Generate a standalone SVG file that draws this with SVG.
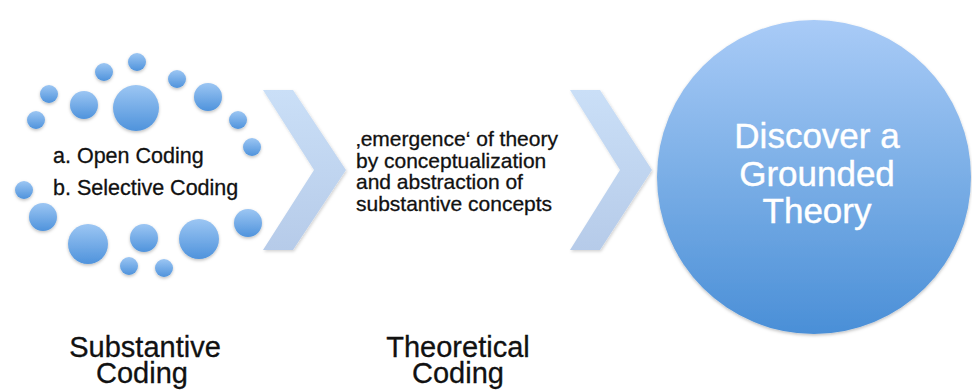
<svg xmlns="http://www.w3.org/2000/svg" width="972" height="390" viewBox="0 0 972 390">
  <defs>
    <linearGradient id="gSmall" x1="0" y1="0" x2="0" y2="1">
      <stop offset="0" stop-color="#9cc6f3"/>
      <stop offset="1" stop-color="#4f93dc"/>
    </linearGradient>
    <linearGradient id="gBig" x1="0" y1="0" x2="0" y2="1">
      <stop offset="0" stop-color="#a9cbf7"/>
      <stop offset="0.5" stop-color="#7aaee6"/>
      <stop offset="1" stop-color="#4a8fd7"/>
    </linearGradient>
    <linearGradient id="gChev" x1="0" y1="0" x2="0" y2="1">
      <stop offset="0" stop-color="#cadff7"/>
      <stop offset="1" stop-color="#b6cbe9"/>
    </linearGradient>
    <filter id="shadow" x="-20%" y="-20%" width="140%" height="150%">
      <feDropShadow dx="0" dy="1.5" stdDeviation="1.5" flood-color="#000" flood-opacity="0.25"/>
    </filter>
    <filter id="chevShadow" x="-20%" y="-10%" width="140%" height="130%">
      <feDropShadow dx="1" dy="1.5" stdDeviation="1.5" flood-color="#000" flood-opacity="0.18"/>
    </filter>
  </defs>
  <style>
    .dot { fill: url(#gSmall); filter: url(#shadow); }
    .chev { fill: url(#gChev); filter: url(#chevShadow); }
    .txt { font-family: "Liberation Sans", Arial, sans-serif; fill: #111; stroke: #111; stroke-width: 0.3px; }
    .list { font-size: 21.5px; }
    .mid { font-size: 21px; }
    .label { font-size: 29px; text-anchor: middle; }
    .big { font-family: "Liberation Sans", Arial, sans-serif; font-size: 35px; fill: #fff; stroke: #fff; stroke-width: 0.4px; text-anchor: middle; }
  </style>
  <rect width="972" height="390" fill="#fff"/>

  <g id="connectors">
    <polygon class="chev" points="263,90 293,90 346,170 293,250 263,250 314,170"/>
    <polygon class="chev" points="570,90 600,90 652,170 600,250 570,250 620,170"/>
  </g>

  <g id="substantive-coding">
    <g id="dots">
      <circle class="dot" cx="137" cy="62" r="9"/>
      <circle class="dot" cx="104" cy="72" r="9"/>
      <circle class="dot" cx="49" cy="94" r="9"/>
      <circle class="dot" cx="36" cy="120" r="9"/>
      <circle class="dot" cx="84" cy="105" r="14"/>
      <circle class="dot" cx="136" cy="108" r="23"/>
      <circle class="dot" cx="177" cy="79" r="9"/>
      <circle class="dot" cx="208" cy="97" r="14"/>
      <circle class="dot" cx="238" cy="120" r="9"/>
      <circle class="dot" cx="252" cy="147" r="9"/>
      <circle class="dot" cx="24" cy="190" r="9"/>
      <circle class="dot" cx="43" cy="217" r="14"/>
      <circle class="dot" cx="88" cy="244" r="20"/>
      <circle class="dot" cx="144" cy="238" r="14"/>
      <circle class="dot" cx="199" cy="239" r="20"/>
      <circle class="dot" cx="248" cy="223" r="14"/>
      <circle class="dot" cx="129" cy="266" r="9"/>
      <circle class="dot" cx="164" cy="268" r="9"/>
    </g>
    <text class="txt list" x="53" y="163">a. Open Coding</text>
    <text class="txt list" x="53" y="195">b. Selective Coding</text>
    <text class="txt label" x="145" y="357">Substantive</text>
    <text class="txt label" x="142" y="383">Coding</text>
  </g>

  <g id="theoretical-coding">
    <text class="txt mid" x="356" y="146">‚emergence‘ of theory</text>
    <text class="txt mid" x="356" y="167.5">by conceptualization</text>
    <text class="txt mid" x="356" y="189">and abstraction of</text>
    <text class="txt mid" x="356" y="210.5">substantive concepts</text>
    <text class="txt label" x="458" y="357">Theoretical</text>
    <text class="txt label" x="458" y="383">Coding</text>
  </g>

  <g id="grounded-theory">
    <circle cx="814" cy="177" r="157" fill="url(#gBig)" filter="url(#shadow)"/>
    <text class="big" x="817" y="148">Discover a</text>
    <text class="big" x="817" y="186">Grounded</text>
    <text class="big" x="817" y="223">Theory</text>
  </g>
</svg>
